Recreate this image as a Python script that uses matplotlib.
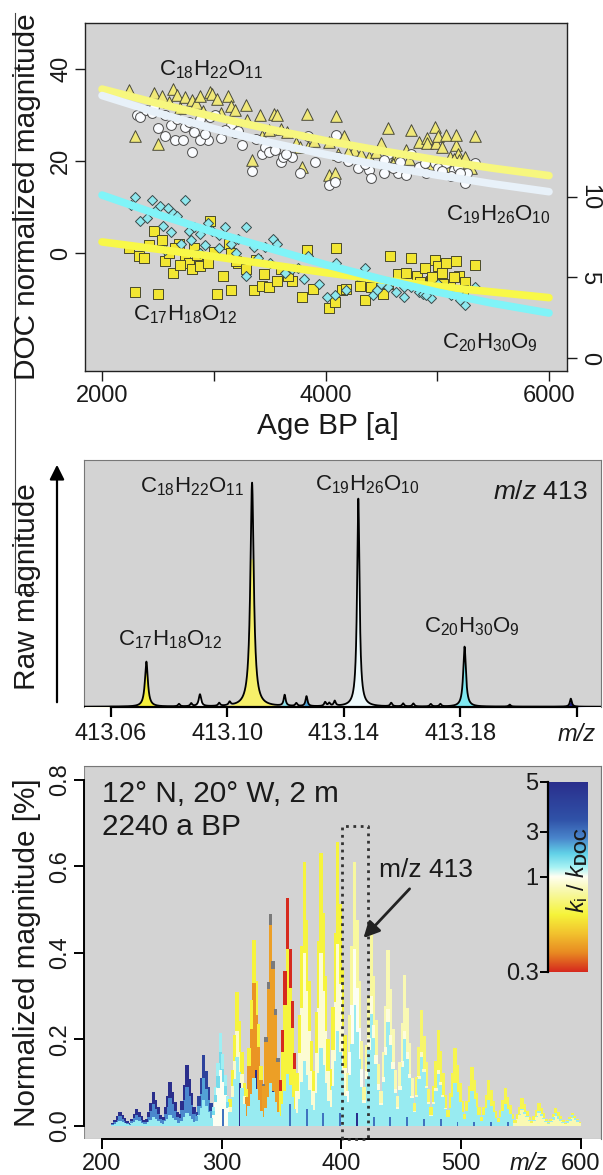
import numpy as np
import matplotlib
matplotlib.use('Agg')
import matplotlib.pyplot as plt
from matplotlib.colors import LinearSegmentedColormap
from matplotlib.patches import Rectangle
from matplotlib.lines import Line2D

plt.rcParams['font.family'] = ['Liberation Sans', 'DejaVu Sans']
plt.rcParams['mathtext.fontset'] = 'custom'
plt.rcParams['mathtext.rm'] = 'Liberation Sans'
plt.rcParams['mathtext.it'] = 'Liberation Sans:italic'
plt.rcParams['mathtext.bf'] = 'Liberation Sans:bold'

# ---------------- DATA: panel 1 (DOC normalized magnitude vs age) -------------
tri_age = [2241, 2299, 2464, 2499, 2533, 2636, 2674, 2740, 2808, 2843, 2877, 2963, 2980, 3032,
           3128, 3152, 3194, 3290, 3342, 3410, 3428, 3496, 3538, 3565, 3651, 3737, 3772, 3789,
           3830, 3840, 4030, 4030, 4081, 4098, 4116, 4167, 4253, 4322, 4391, 4494, 4563, 4614,
           4649, 4718, 4769, 4838, 4907, 4907, 4976, 4993, 5010, 5044, 5079, 5113, 5165, 5165,
           5182, 5199, 5251, 5337, 5079, 5217, 2602, 2700, 2900, 3066, 3300, 3600, 3900, 4200,
           4450, 4600, 4750, 4950, 5150, 5300]
tri_val = [35.4, 25.5, 34.9, 23.8, 34.1, 35.7, 34.4, 33.9, 33.3, 32.6, 34.1, 35.1, 34.6, 33.5,
           34.2, 32.0, 31.2, 32.2, 20.3, 30.1, 25.4, 26.8, 30.3, 30.1, 26.4, 23.9, 23.2, 18.8,
           30.3, 23.2, 24.3, 17.0, 17.4, 29.9, 21.7, 25.4, 22.5, 21.7, 21.0, 23.9, 27.2, 20.3,
           21.0, 22.5, 26.8, 24.3, 25.0, 23.9, 27.5, 23.9, 25.4, 23.2, 25.7, 21.0, 23.6, 25.7,
           21.7, 20.3, 21.0, 25.4, 18.8, 18.8, 33.0, 31.5, 31.0, 30.5, 29.0, 27.0, 24.5, 22.0,
           22.0, 19.5, 20.5, 19.5, 20.5, 18.5]

cir_age = [2310, 2344, 2464, 2499, 2568, 2619, 2653, 2722, 2740, 2808, 2826, 2877, 2946, 2963,
           3015, 3066, 3152, 3256, 3342, 3428, 3462, 3600, 3617, 3703, 3772, 3840, 3909, 4030,
           4081, 4098, 4116, 4288, 4391, 4408, 4528, 4563, 4649, 4718, 4769, 4838, 4890, 4976,
           5010, 5079, 5148, 5182, 5251, 5268, 5337, 4528, 5044, 4666, 3496, 3187, 2877, 2670,
           2396, 2450, 2560, 2780, 2920, 3100, 3220, 3380, 3550, 3650, 4200, 4350, 4600, 4900,
           5120, 5200]
cir_val = [30.1, 29.7, 31.9, 27.2, 25.4, 27.9, 24.6, 24.6, 27.5, 22.1, 26.4, 29.3, 24.6, 29.7,
           30.1, 25.0, 27.9, 23.6, 17.8, 21.7, 23.2, 19.9, 21.0, 21.0, 17.4, 25.4, 19.9, 14.9,
           15.6, 25.7, 21.0, 18.5, 18.1, 16.3, 17.4, 21.7, 17.4, 17.0, 21.7, 18.8, 19.6, 19.6,
           18.5, 19.6, 18.1, 18.8, 15.2, 17.4, 19.6, 20.3, 17.8, 19.9, 22.1, 26.1, 24.6, 29.3,
           31.2, 30.5, 30.0, 28.5, 26.0, 26.8, 26.5, 24.8, 22.5, 21.5, 20.0, 19.5, 18.5, 17.5,
           16.8, 17.5]

sq_age = [2241, 2299, 2327, 2464, 2499, 2533, 2568, 2602, 2636, 2688, 2740, 2774, 2808, 2826,
          2877, 2946, 2963, 3032, 3084, 3135, 3152, 3221, 3290, 3359, 3376, 3428, 3496, 3565,
          3703, 3789, 3830, 3892, 4030, 4081, 4098, 4150, 4184, 4305, 4356, 4408, 4511, 4573,
          4649, 4718, 4769, 4821, 4890, 4941, 4976, 5010, 5044, 5079, 5113, 5165, 5199, 5251,
          5337, 4563, 3668, 3152, 2380, 2420, 2650, 2700, 2850, 3000, 3200, 3450, 3600, 4850,
          4950, 5050, 5150, 5230]
sq_val = [6.8, 4.1, 6.3, 7.9, 4.0, 7.3, 6.0, 6.5, 5.3, 7.1, 6.2, 5.9, 5.5, 6.8,
          5.7, 5.9, 8.5, 4.0, 5.1, 7.1, 4.2, 5.9, 5.5, 4.2, 6.1, 4.5, 4.4, 4.8,
          4.8, 3.8, 6.7, 4.3, 3.1, 3.5, 6.8, 4.2, 4.3, 4.5, 3.6, 4.4, 4.0, 6.3,
          5.2, 5.3, 6.2, 5.1, 5.6, 4.8, 6.1, 5.7, 5.3, 5.9, 4.4, 6.0, 5.1, 4.7,
          5.8, 4.6, 5.1, 6.5, 6.2, 7.0, 6.8, 5.8, 6.4, 6.6, 6.0, 5.2, 5.5, 4.7,
          5.0, 4.6, 5.0, 4.2]

dia_age = [2258, 2299, 2344, 2447, 2482, 2516, 2592, 2636, 2670, 2740, 2774, 2826, 2877, 2946,
           2980, 3049, 3101, 3152, 3221, 3290, 3359, 3462, 3531, 3565, 3634, 3703, 3806, 3840,
           3944, 4012, 4081, 4098, 4184, 4288, 4356, 4425, 4563, 4632, 4700, 4769, 4838, 4941,
           5010, 5079, 5182, 5251, 5337, 2568, 2705, 2877, 3290, 4459, 4872, 2400, 2550, 2620,
           2800, 2920, 3050, 3200, 3400, 3500, 3750, 4500, 4700, 4900, 5120, 5200]
dia_val = [9.5, 10.0, 8.5, 9.8, 9.2, 9.4, 9.3, 9.0, 8.8, 9.8, 7.9, 8.1, 7.7, 8.4,
           7.9, 7.6, 8.1, 7.1, 7.4, 8.1, 6.9, 6.9, 7.4, 7.1, 5.3, 5.5, 4.9, 6.3,
           4.6, 3.8, 3.9, 5.9, 4.2, 5.1, 5.6, 3.9, 4.4, 4.1, 3.8, 4.4, 4.1, 3.7,
           4.6, 4.2, 4.1, 3.3, 4.4, 6.7, 7.1, 6.5, 5.1, 4.2, 4.0, 8.7, 8.2, 7.8,
           7.3, 7.0, 6.8, 6.5, 6.2, 5.9, 5.6, 4.6, 4.4, 3.9, 3.9, 3.6]

fit_age = [2000, 2500, 3000, 3500, 4000, 4500, 5000, 5500, 6000]
fit_c18 = [35.7, 32.6, 29.7, 27.0, 24.5, 22.3, 20.3, 18.5, 16.9]
fit_c19 = [34.3, 30.5, 27.1, 24.1, 21.5, 19.1, 17.0, 15.1, 13.4]
fit_c20 = [10.1, 8.9, 7.8, 6.8, 5.8, 4.9, 4.1, 3.4, 2.8]
fit_c17 = [7.2, 6.75, 6.3, 5.8, 5.3, 4.85, 4.45, 4.1, 3.75]

# ---------------- DATA: panel 2 (raw spectrum around m/z 413) ----------------
pk_mz = [413.0722, 413.1085, 413.1450, 413.1815, 413.0906, 413.1197, 413.1272, 413.2180]
pk_h = [45, 224, 208, 60, 12, 11, 10, 8]
pk_w = [0.0006, 0.0007, 0.0005, 0.00055, 0.0005, 0.0004, 0.0004, 0.0004]
pk_fill = ['#f5f03c', '#f6f06a', '#eefafc', '#7fe8f0', '#f6f6f6', '#8de4ee', '#4aa6dc', '#1c1c88']
pk_fill_top = [None, 148, None, None, None, None, None, None]
noise_mz = [413.0834, 413.0876, 413.0972, 413.1008, 413.1237, 413.1336, 413.1350, 413.1369,
            413.1563, 413.1604, 413.1639, 413.1699, 413.1732, 413.1970]
noise_h = [2.5, 3, 3, 3.5, 3, 4, 3, 5, 3.5, 3, 3, 2.5, 2.5, 2]
spec_ticks = [413.06, 413.10, 413.14, 413.18, 413.22]
spec_ticklabels = ['413.06', '413.10', '413.14', '413.18', 'm/z']

# ---------------- DATA: panel 3 (mass spectrum coloured by k_i/k_DOC) -------
cl_peak = [215, 229, 243, 257, 271, 285, 299, 313, 327, 341, 355, 369, 383, 397, 411, 425,
           439, 453, 467, 481, 495, 509, 523, 537, 551, 565, 579, 593]
main_h = [0.033, 0.040, 0.078, 0.102, 0.140, 0.164, 0.214, 0.310, 0.430, 0.490, 0.526, 0.611,
          0.630, 0.657, 0.611, 0.445, 0.407, 0.350, 0.267, 0.222, 0.181, 0.137, 0.106, 0.087,
          0.064, 0.054, 0.041, 0.031]
main_k = [5, 5, 5, 5, 5, 4, 1.3, 0.62, 0.62, np.nan, 0.3, 0.62, 0.62, 0.62, 0.8, 0.8,
          0.85, 0.85, 0.7, 0.65, 0.65, 0.65, 0.65, 0.65, 0.65, 0.65, 0.65, 0.65]
sec_h = [0.022, 0.026, 0.050, 0.065, 0.090, 0.110, 0.130, 0.220, 0.330, 0.465, 0.410, 0.400,
         0.400, 0.420, 0.410, 0.300, 0.270, 0.220, 0.170, 0.130, 0.100, 0.080, 0.060, 0.050,
         0.036, 0.030, 0.022, 0.018]
sec_k = [2.5, 2.5, 2.5, 2.5, 2.5, 2.2, 1.0, 0.9, 0.4, 0.42, 0.62, 0.92, 0.92, 0.92, 1.0, 0.95,
         0.95, 0.95, 0.9, 0.9, 0.9, 0.85, 0.85, 0.85, 0.85, 0.85, 0.85, 0.85]
cyan_h = [0.012, 0.014, 0.020, 0.025, 0.030, 0.060, 0.170, 0.160, 0.110, 0.100, 0.120, 0.150,
          0.180, 0.220, 0.280, 0.260, 0.240, 0.200, 0.160, 0.120, 0.100, 0.080, 0.060, 0.050,
          0.040, 0.035, 0.030, 0.025]
cyan_k = [1.35] * 6 + [1.6] + [1.35] * 21
blue_h = [0, 0, 0, 0, 0, 0, 0.04, 0.10, 0.13, 0.08, 0.05, 0.04, 0.03, 0.03, 0.03, 0.02,
          0.02, 0.02, 0.015, 0.015, 0.01, 0.01, 0.01, 0.01, 0, 0, 0, 0]
blue_k = [3, 3, 3, 3, 3, 3, 3, 5, 5, 5, 3, 3, 3, 3, 5, 3, 3, 3, 3, 3, 3, 3, 3, 3, 3, 3, 3, 3]
blue_off = 2
prof_off = [-6, -4, -2, 0, 2, 4, 6]
prof_rel = [0.20, 0.42, 0.68, 1.00, 0.78, 0.55, 0.32]
cb_k = [0.3, 1, 3, 5]
cb_pos = [0.0, 0.5, 0.737, 1.0]
cb_colors = [(0.00, '#d62a1e'), (0.10, '#e88a22'), (0.20, '#f2c22e'), (0.30, '#f6f43a'),
             (0.42, '#f8f8a8'), (0.50, '#fffff2'), (0.55, '#a6f2f4'), (0.62, '#62d2e8'),
             (0.70, '#4a86cc'), (0.80, '#3052a8'), (1.00, '#2a2e8c')]

# ---------------- FIGURE --------------------------------------------------
W, H = 603, 1175
fig = plt.figure(figsize=(W / 100, H / 100), dpi=100)
BG = '#d3d3d3'
TXT = '#1a1a1a'
TICK_FS = 17
LAB_FS = 21.4
FORM_FS = 16


def rect(l, t, r, b):
    return [l / W, 1 - b / H, (r - l) / W, (b - t) / H]


def ftext(x, y, s, **kw):
    kw.setdefault('color', TXT)
    fig.text(x / W, 1 - y / H, s, **kw)


# left decorative frame line
fig.add_artist(Line2D([14.6 / W, 14.6 / W], [1 - 13 / H, 1 - 592 / H], color='#444', lw=0.8))
fig.add_artist(Line2D([14.6 / W, 38 / W], [1 - 592 / H, 1 - 592 / H], color='#444', lw=0.8))

# ---- panel 1
ax1 = fig.add_axes(rect(84.6, 23.3, 567.3, 370.7))
ax1.set_facecolor(BG)
ax1.set_xlim(1844, 6164)
ax1.set_ylim(-25.5, 50.0)
for s in ax1.spines.values():
    s.set_color('#222')
    s.set_linewidth(1.0)
ax1.scatter(tri_age, tri_val, marker='^', s=70, c='#f0e878', edgecolors='#4a4a3a', linewidths=0.7, zorder=3)
ax1.scatter(cir_age, cir_val, marker='o', s=50, c='#fafcff', edgecolors='#4a4a4a', linewidths=0.7, zorder=3)
ax1.plot(fit_age, fit_c18, color='#f7f77e', lw=5.5, solid_capstyle='round', zorder=4)
ax1.plot(fit_age, fit_c19, color='#e8f1f9', lw=5.5, solid_capstyle='round', zorder=4)
ax1.set_xticks([2000, 3000, 4000, 5000, 6000])
ax1.set_xticklabels(['2000', '', '4000', '', '6000'])
ax1.set_yticks([0, 20, 40])
ax1.set_yticklabels(['0', '20', '40'], rotation=90, va='center')
ax1.tick_params(axis='both', labelsize=TICK_FS, colors=TXT, length=7, width=1.0, direction='out')
ax1.tick_params(axis='x', pad=3)
ax1.tick_params(axis='y', pad=2)

ax1r = ax1.twinx()
ax1r.set_ylim(-0.77, 20.73)
ax1r.scatter(sq_age, sq_val, marker='s', s=44, c='#f2e632', edgecolors='#4a4a2a', linewidths=0.7, zorder=3)
ax1r.scatter(dia_age, dia_val, marker='D', s=26, c='#8ee8ee', edgecolors='#3a4a4a', linewidths=0.7, zorder=3)
ax1r.plot(fit_age, fit_c17, color='#f8f848', lw=5.5, solid_capstyle='round', zorder=4)
ax1r.plot(fit_age, fit_c20, color='#80f4f8', lw=5.5, solid_capstyle='round', zorder=4)
ax1r.set_yticks([0, 5, 10])
ax1r.set_yticklabels(['0', '5', '10'], rotation=270, va='center')
ax1r.tick_params(axis='y', labelsize=TICK_FS, colors=TXT, length=7, width=1.0, pad=1)
for s in ax1r.spines.values():
    s.set_visible(False)

ftext(27, 197, 'DOC normalized magnitude', rotation=90, ha='center', va='center', fontsize=LAB_FS)
ftext(328, 426, 'Age BP [a]', ha='center', va='center', fontsize=LAB_FS)
ftext(211, 70, r'$\mathregular{C_{18}H_{22}O_{11}}$', ha='center', va='center', fontsize=FORM_FS)
ftext(498, 215, r'$\mathregular{C_{19}H_{26}O_{10}}$', ha='center', va='center', fontsize=FORM_FS)
ftext(185, 315, r'$\mathregular{C_{17}H_{18}O_{12}}$', ha='center', va='center', fontsize=FORM_FS)
ftext(490, 343, r'$\mathregular{C_{20}H_{30}O_{9}}$', ha='center', va='center', fontsize=FORM_FS)

# ---- panel 2
ax2 = fig.add_axes(rect(83.8, 460, 600.8, 706.7))
ax2.set_facecolor(BG)
ax2.set_xlim(413.0507, 413.2283)
ax2.set_ylim(0, 246.7)
xs = np.linspace(413.0507, 413.2283, 6000)
total = np.zeros_like(xs)
for c, h, w in zip(noise_mz, noise_h, [0.0004] * len(noise_mz)):
    total += h / (1 + ((xs - c) / w) ** 2)
for c, h, w, col, top in zip(pk_mz, pk_h, pk_w, pk_fill, pk_fill_top):
    y = h / (1 + ((xs - c) / w) ** 2)
    total += y
    yf = np.minimum(y, top) if top is not None else y
    ax2.fill_between(xs, 0, yf, color=col, lw=0, zorder=2)
ax2.plot(xs, total, color='k', lw=1.3, zorder=3)
for s in ['top', 'left', 'right']:
    ax2.spines[s].set_color('#777')
    ax2.spines[s].set_linewidth(0.8)
ax2.spines['bottom'].set_bounds(413.06, 413.22)
ax2.spines['bottom'].set_linewidth(1.6)
ax2.spines['bottom'].set_color('k')
ax2.set_yticks([])
ax2.set_xticks(spec_ticks)
ax2.set_xticklabels(spec_ticklabels)
ax2.get_xticklabels()[-1].set_style('italic')
ax2.tick_params(axis='x', labelsize=TICK_FS, colors=TXT, length=7, width=1.6, pad=5)
ax2.tick_params(axis='x', color='k')
fig.add_artist(matplotlib.patches.FancyArrowPatch((57 / W, 1 - 705 / H), (57 / W, 1 - 462 / H),
               transform=fig.transFigure, arrowstyle='-|>', mutation_scale=22, lw=1.6, color='k'))
ftext(27, 587, 'Raw magnitude', rotation=90, ha='center', va='center', fontsize=LAB_FS)
ftext(588, 492, r'$\mathit{m/z}$ 413', ha='right', va='center', fontsize=19)
ftext(192, 487, r'$\mathregular{C_{18}H_{22}O_{11}}$', ha='center', va='center', fontsize=FORM_FS)
ftext(367, 485, r'$\mathregular{C_{19}H_{26}O_{10}}$', ha='center', va='center', fontsize=FORM_FS)
ftext(170, 640, r'$\mathregular{C_{17}H_{18}O_{12}}$', ha='center', va='center', fontsize=FORM_FS)
ftext(472, 627, r'$\mathregular{C_{20}H_{30}O_{9}}$', ha='center', va='center', fontsize=FORM_FS)

# ---- panel 3
cmap = LinearSegmentedColormap.from_list('kratio', cb_colors)


def kcol(k):
    if np.isnan(k):
        return '#7a7a7a'
    t = np.interp(np.log(k), np.log(cb_k), cb_pos)
    return cmap(t)


ax3 = fig.add_axes(rect(83.8, 765.7, 600.8, 1139.3))
ax3.set_facecolor(BG)
ax3.set_xlim(184.9, 616.7)
ax3.set_ylim(-0.0308, 0.833)
bars = []
for i, p in enumerate(cl_peak):
    for hl, kl in ((main_h, main_k), (sec_h, sec_k), (cyan_h, cyan_k)):
        if hl[i] <= 0:
            continue
        col = kcol(kl[i])
        for off, rel in zip(prof_off, prof_rel):
            bars.append((p + off, hl[i] * rel, col, 2.8))
    if blue_h[i] > 0:
        bars.append((p + blue_off, blue_h[i], kcol(blue_k[i]), 1.6))
bars.sort(key=lambda b: -b[1])
ax3.bar([b[0] for b in bars], [b[1] for b in bars], width=[b[3] for b in bars],
        color=[b[2] for b in bars], linewidth=0, antialiased=False, zorder=2)
ax3.plot([400.8, 400.8, 422.1, 422.1, 400.8], [-0.031, 0.693, 0.693, -0.031, -0.031], ls=':', lw=2,
         color='#333', clip_on=False, zorder=5)
ax3.annotate('', xy=(416.9, 0.430), xytext=(458.6, 0.553),
             arrowprops=dict(arrowstyle='-|>', lw=2, color='#222', mutation_scale=24), zorder=6)
ax3.text(431.5, 0.592, 'm/z 413', fontsize=19, color=TXT, ha='left', va='center', zorder=6)
for s in ['top', 'right']:
    ax3.spines[s].set_color('#777')
    ax3.spines[s].set_linewidth(0.8)
ax3.spines['left'].set_bounds(0, 0.8)
ax3.spines['bottom'].set_bounds(200, 600)
for s in ['left', 'bottom']:
    ax3.spines[s].set_linewidth(1.4)
    ax3.spines[s].set_color('k')
ax3.add_patch(Rectangle((0, 0), 1, 1, transform=ax3.transAxes, fill=False, ec='#888', lw=0.8, zorder=1))
ax3.set_yticks([0, 0.2, 0.4, 0.6, 0.8])
ax3.set_yticklabels(['0.0', '0.2', '0.4', '0.6', '0.8'], rotation=90, va='center')
ax3.set_xticks([200, 300, 400, 500, 600])
ax3.set_xticklabels(['200', '300', '400', '500', '600'])
ax3.tick_params(axis='both', labelsize=TICK_FS, colors=TXT, length=7, width=1.4)
ax3.tick_params(axis='both', color='k')
ax3.tick_params(axis='x', pad=3)
ax3.tick_params(axis='y', pad=2)
ftext(529, 1163, 'm/z', ha='center', va='center', fontsize=TICK_FS, style='italic')
ftext(27, 953, 'Normalized magnitude [%]', rotation=90, ha='center', va='center', fontsize=LAB_FS)
ftext(102, 794, '12° N, 20° W, 2 m', ha='left', va='center', fontsize=LAB_FS)
ftext(102, 827, '2240 a BP', ha='left', va='center', fontsize=LAB_FS)

# colour bar
axc = fig.add_axes(rect(548.3, 781.7, 588.3, 971.7))
axc.imshow(np.linspace(0, 1, 256)[:, None], cmap=cmap, origin='lower', aspect='auto',
           extent=[0, 1, 0, 1])
axc.set_xlim(0, 1)
axc.set_ylim(0, 1)
axc.set_xticks([])
axc.set_yticks(cb_pos)
axc.set_yticklabels(['0.3', '1', '3', '5'])
axc.tick_params(axis='y', labelsize=TICK_FS, colors=TXT, length=6, width=1.4, pad=1)
axc.tick_params(axis='y', color='k')
for s in ['top', 'right', 'bottom']:
    axc.spines[s].set_visible(False)
axc.spines['left'].set_linewidth(1.6)
axc.spines['left'].set_color('k')
ftext(577, 870, r'$\mathit{k}_\mathregular{i}\ /\ \mathit{k}_\mathbf{DOC}$', rotation=90,
      ha='center', va='center', fontsize=17)

fig.savefig('out.png', dpi=100)
